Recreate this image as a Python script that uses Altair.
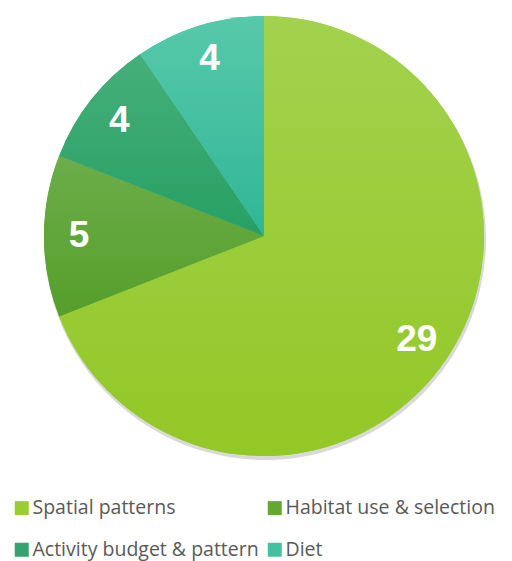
import altair as alt
import pandas as pd

categories = ["Spatial patterns", "Habitat use & selection", "Activity budget & pattern", "Diet"]
counts = [29, 5, 4, 4]
colors = ["#9acd32", "#62a832", "#33a56c", "#42c0a0"]
top_colors = ["#a2d24e", "#6cae4a", "#46af7a", "#58c9ab"]
bottom_colors = ["#93c826", "#559e2a", "#27a064", "#30b696"]

df = pd.DataFrame({"category": categories, "count": counts, "order": list(range(len(categories)))})

CX, CY, R = 256, 228, 220


def grad(c0, c1):
    return {
        "gradient": "linear", "x1": 0, "y1": 0, "x2": 0, "y2": 1,
        "stops": [{"offset": 0, "color": c0}, {"offset": 1, "color": c1}],
    }


base = alt.Chart(df).encode(
    theta=alt.Theta("count:Q", stack=True),
    order=alt.Order("order:Q"),
)

shadow = base.mark_arc(outerRadius=R + 1, color="#000000", opacity=0.15).encode(
    x=alt.value(CX + 1), y=alt.value(CY + 3)
)

pie = base.mark_arc(outerRadius=R, stroke=None).encode(
    x=alt.value(CX), y=alt.value(CY),
    color=alt.Color(
        "category:N",
        sort=categories,
        scale=alt.Scale(domain=categories, range=colors),
        legend=alt.Legend(
            title=None,
            orient="none",
            legendX=4,
            legendY=490,
            columns=2,
            direction="horizontal",
            symbolType="square",
            symbolSize=196,
            symbolStrokeWidth=0,
            symbolOpacity=1,
            labelFont="Open Sans",
            labelFontSize=19.5,
            labelColor="#595959",
            labelOffset=1,
            labelLimit=400,
            rowPadding=21,
            columnPadding=6,
            padding=0,
        ),
    ),
)

conds = [
    {"test": "datum.category === '%s'" % c, "value": grad(t, b)}
    for c, t, b in zip(categories[:-1], top_colors[:-1], bottom_colors[:-1])
]
grad_layer = base.mark_arc(outerRadius=R, stroke=None).encode(
    x=alt.value(CX), y=alt.value(CY),
    fill={"condition": conds, "value": grad(top_colors[-1], bottom_colors[-1])},
)

labels = base.mark_text(
    radius=185, font="Liberation Sans", fontWeight="bold", fontSize=37,
    color="white", align="center", baseline="middle"
).encode(
    x=alt.value(CX), y=alt.value(CY),
    text=alt.Text("count:Q"),
)

chart = alt.layer(shadow, pie, grad_layer, labels).properties(
    width=496, height=553,
    autosize=alt.AutoSizeParams(type="none"),
    padding=0,
).configure_view(stroke=None)

chart.save("out.html", embed_options={"renderer": "svg", "actions": False})
